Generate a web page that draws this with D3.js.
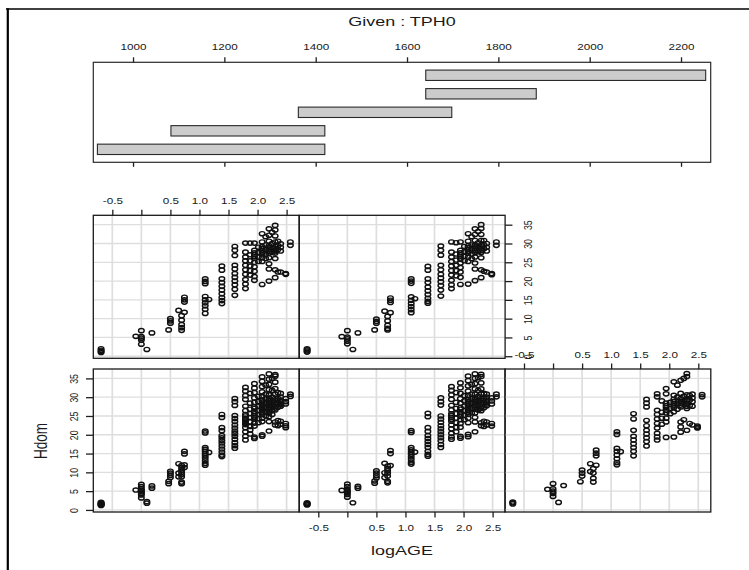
<!DOCTYPE html>
<html>
<head>
<meta charset="utf-8">
<script src="https://cdn.jsdelivr.net/npm/d3@7"></script>
<style>
  body { margin: 0; background: #fff; }
  svg { display: block; }
  text { font-family: "Liberation Sans", Arial, Helvetica, sans-serif; fill: #1a1a1a; }
</style>
</head>
<body>
<svg id="chart" width="749" height="570"></svg>
<script>
// ---- data -------------------------------------------------------------
// logAGE values at which the stands were measured
const LOG_AGE = [-0.693, -0.095, 0, 0.095, 0.182, 0.47, 0.5, 0.642, 0.693, 0.742,
  1.099, 1.163, 1.386, 1.609, 1.792, 1.872, 1.946, 2.015, 2.079, 2.14, 2.197,
  2.251, 2.303, 2.351, 2.398, 2.485, 2.565];

// Hdom observed at each logAGE, one list per TPH0 interval
const HDOM_1 = [
  [1.2, 1.4, 1.6, 1.8, 2.0, 1.5], [5.3], [6.8, 6.2, 5.6, 5.2, 4.8, 4.4, 4.0, 3.2], [1.8, 2.2],
  [6.4, 5.8], [7.0, 7.6], [10.3, 9.8, 9.2, 8.6], [12.3, 9.8, 8.8],
  [11.8, 11.2, 10.6, 10.0, 9.4, 8.8, 7.4, 7.0], [15.6, 14.9, 12.0, 11.3],
  [21.0, 20.5, 16.6, 16.1, 15.6, 15.0, 14.4, 13.8, 13.1, 12.4, 11.9], [15.3],
  [25.4, 24.6, 21.9, 21.1, 19.8, 19.2, 18.5, 17.8, 17.0, 16.2, 15.4, 14.6, 14.2],
  [29.6, 28.8, 27.8, 25.1, 24.3, 23.5, 22.6, 21.8, 21.0, 20.3, 19.6, 18.8, 17.9, 17.1, 16.4],
  [32.6, 31.6, 30.4, 29.4, 27.6, 26.4, 25.4, 25.0, 24.4, 24.0, 23.6, 23.2, 22.7, 21.9, 20.8, 19.6, 18.6],
  [31.0, 28.4, 26.8, 25.6, 24.6, 23.4, 22.2, 21.3, 20.2],
  [33.6, 32.4, 31.2, 29.8, 28.6, 27.4, 27.0, 26.2, 25.6, 25.0, 24.6, 24.2, 23.1, 22.3, 19.4, 19.0],
  [30.2, 28.8, 27.6, 26.4, 25.4, 24.3, 23.2],
  [35.4, 34.2, 32.8, 31.4, 30.2, 29.2, 28.7, 28.2, 27.8, 27.3, 26.9, 26.4, 25.9, 25.4, 24.4, 23.5, 20.0, 19.6],
  [33.2, 30.8, 29.6, 28.4, 27.2, 26.0, 25.0],
  [36.2, 34.8, 33.4, 32.0, 30.6, 29.6, 29.1, 28.6, 28.2, 27.7, 27.2, 26.8, 26.3, 25.8, 24.8, 23.5, 21.0],
  [35.0, 31.8, 30.0, 28.8, 27.6, 26.4, 25.4],
  [36.0, 35.6, 34.0, 32.3, 30.8, 29.6, 29.1, 28.6, 28.1, 27.6, 27.1, 26.6, 23.4, 22.6],
  [31.2, 29.6, 28.4, 27.3, 23.8, 22.4],
  [31.0, 30.0, 29.2, 28.8, 28.4, 28.0, 27.6, 23.6, 22.8],
  [29.6, 28.8, 28.2, 23.0, 22.4, 21.9],
  [30.8, 30.2]
];
const HDOM_2 = [
  [1.3, 1.5, 1.7, 1.9, 1.6], [5.2], [6.9, 6.2, 5.5, 5.0, 4.6, 4.1, 3.4], [1.9],
  [6.3, 5.8], [7.1, 7.7], [10.4, 9.8, 9.1, 8.5], [12.4, 9.9, 8.6],
  [11.7, 11.0, 10.4, 9.8, 9.0, 7.6, 7.2], [15.8, 15.0, 11.8],
  [21.1, 20.6, 16.6, 16.0, 15.4, 14.8, 14.1, 13.4, 12.7, 12.2], [15.4],
  [25.7, 24.8, 21.9, 20.9, 19.8, 19.0, 18.2, 17.4, 16.6, 15.6, 14.8, 14.3],
  [29.8, 28.8, 27.9, 25.0, 24.2, 23.3, 22.4, 21.6, 20.8, 20.0, 19.2, 18.4, 17.4, 16.6],
  [32.8, 31.8, 30.6, 29.4, 27.8, 26.6, 25.6, 25.1, 24.6, 24.1, 23.6, 22.6, 21.6, 20.4, 19.4, 18.8],
  [31.2, 28.6, 27.0, 25.6, 24.4, 23.2, 22.0, 20.8],
  [33.8, 32.5, 31.0, 29.6, 28.4, 27.2, 26.8, 26.0, 25.5, 24.9, 24.0, 23.0, 22.0, 19.6, 19.1],
  [30.4, 29.0, 27.6, 26.4, 25.2, 24.0],
  [35.6, 34.4, 33.0, 31.6, 30.4, 29.4, 28.9, 28.4, 27.9, 27.4, 26.9, 26.4, 25.9, 25.4, 24.4, 23.2, 20.1, 19.5],
  [33.4, 30.8, 29.6, 28.4, 27.0, 25.8],
  [36.2, 35.0, 33.6, 32.2, 30.8, 29.8, 29.3, 28.8, 28.3, 27.8, 27.3, 26.8, 25.8, 24.6, 23.4, 20.8],
  [35.2, 31.8, 30.2, 29.0, 27.8, 26.6],
  [36.1, 35.5, 33.8, 32.2, 30.8, 29.6, 29.1, 28.6, 28.1, 27.6, 27.0, 26.4, 23.2, 22.4],
  [31.0, 29.6, 28.4, 27.2, 23.6, 22.2],
  [30.8, 30.0, 29.2, 28.7, 28.2, 27.7, 23.4, 22.6],
  [29.8, 29.0, 28.2, 23.0, 22.3],
  [30.8, 30.1]
];
const HDOM_3 = [
  [1.6, 1.9, 2.1], [5.5], [7.0, 5.6, 5.0, 4.4, 3.6], [2.0],
  [6.5], [7.5], [10.6, 9.8, 9.0], [12.3, 10.2],
  [11.0, 9.8, 8.4, 7.4], [15.9, 15.1, 14.4, 11.9],
  [20.8, 20.1, 16.4, 15.6, 14.6, 13.6, 12.6, 12.0], [15.5],
  [25.6, 24.2, 21.2, 19.6, 18.6, 17.6, 16.6, 15.6, 14.4],
  [29.4, 28.4, 27.4, 23.8, 22.4, 21.2, 20.2, 19.2, 18.2, 17.0],
  [30.9, 30.1, 26.5, 25.4, 24.2, 23.0, 21.8, 20.4, 19.4, 18.6],
  [29.0, 26.0, 24.4, 22.8],
  [32.3, 30.9, 28.4, 27.8, 27.2, 26.5, 25.8, 24.4, 23.4, 19.3],
  [28.6, 27.0, 25.6],
  [34.1, 30.5, 29.4, 28.8, 28.2, 27.7, 27.2, 26.1, 19.4],
  [33.2, 30.0, 28.2, 26.8],
  [34.5, 31.0, 29.6, 28.9, 28.4, 27.9, 27.4, 23.4, 22.1, 20.7],
  [35.0, 30.2, 28.8, 24.0],
  [36.3, 35.5, 30.6, 29.4, 29.0, 28.2, 27.6, 27.0, 21.2],
  [30.4, 29.2, 27.8, 23.0],
  [30.8, 29.8, 28.8, 27.6, 22.6],
  [22.3, 22.0, 21.8],
  [30.7, 30.1]
];
const HDOM_4 = [
  [1.0, 1.3, 1.6, 2.0], [5.3], [6.8, 5.2, 4.8, 4.3, 3.2], [1.8],
  [6.2], [7.0], [10.0, 9.4, 8.8], [12.2],
  [10.8, 9.6, 8.4, 7.6, 6.9], [15.7, 15.0, 14.4, 11.7],
  [20.6, 19.9, 19.3, 15.9, 15.0, 14.2, 13.4, 12.5, 11.4], [15.1],
  [24.0, 22.9, 20.6, 19.6, 18.6, 17.6, 16.6, 15.6, 14.8, 14.0],
  [29.2, 28.2, 26.8, 24.2, 23.2, 22.0, 21.0, 20.0, 19.0, 17.8, 16.2],
  [30.1, 27.7, 26.4, 25.4, 24.2, 23.0, 21.8, 20.4, 19.2, 18.0],
  [30.1, 27.0, 25.4, 24.0, 22.8, 21.6],
  [30.1, 28.2, 27.5, 27.0, 26.5, 26.0, 25.0, 23.8, 22.6, 21.2, 20.2],
  [29.0, 27.6, 26.4, 25.2],
  [32.6, 30.4, 29.2, 28.7, 28.2, 27.7, 27.2, 26.2, 25.2, 19.1],
  [31.8, 29.6, 28.4, 27.2, 26.0],
  [33.9, 32.2, 30.6, 29.4, 28.9, 28.4, 27.9, 27.4, 26.2, 24.6, 23.2, 20.0],
  [33.0, 30.0, 28.8, 27.6],
  [34.8, 33.6, 32.0, 30.4, 29.2, 28.7, 28.2, 27.8, 27.4, 26.0, 23.0, 20.9],
  [30.6, 29.4, 28.4, 22.4],
  [29.9, 29.0, 28.0, 22.4],
  [22.0, 21.8],
  [30.4, 29.5]
];
const HDOM_5 = [
  [1.1, 1.4, 1.7, 2.0], [5.2], [6.8, 5.1, 4.6, 4.0, 3.3], [1.8],
  [6.2], [7.0], [9.9, 9.3, 8.8], [12.0],
  [10.6, 9.4, 8.2, 7.4, 7.0], [15.5, 14.9, 14.3, 11.6],
  [20.6, 20.0, 19.4, 15.8, 14.9, 14.0, 13.2, 12.4, 11.6], [15.3],
  [23.9, 22.9, 20.6, 19.6, 18.4, 17.4, 16.4, 15.4, 14.6, 14.1],
  [29.3, 28.2, 26.9, 24.2, 23.0, 21.8, 20.8, 19.8, 18.8, 17.6, 16.0],
  [30.4, 27.7, 26.4, 25.2, 24.0, 22.8, 21.6, 20.2, 19.0, 18.0],
  [30.2, 27.2, 25.6, 24.2, 22.8, 21.4],
  [30.4, 28.2, 27.5, 27.0, 26.5, 25.9, 24.8, 23.6, 22.4, 21.0, 19.1],
  [29.2, 27.8, 26.6, 25.4],
  [32.6, 30.6, 29.4, 28.9, 28.4, 27.9, 27.4, 26.4, 25.2, 19.2],
  [31.8, 29.6, 28.4, 27.2, 26.0],
  [33.9, 32.4, 30.8, 29.6, 29.1, 28.6, 28.1, 27.6, 26.4, 24.8, 23.2, 20.1],
  [33.2, 30.2, 29.0, 27.8],
  [35.0, 34.0, 32.4, 30.8, 29.6, 29.1, 28.6, 28.1, 27.6, 26.2, 23.0, 20.9],
  [30.8, 29.6, 28.6, 22.6],
  [30.0, 29.0, 28.0, 22.4],
  [22.0, 21.7],
  [30.4, 29.5]
];

// TPH0 conditioning intervals (lowest first)
const TPH_INTERVALS = [[922, 1420], [1083, 1420], [1362, 1698], [1641, 1883], [1641, 2254]];
const TPH_TICKS = [1000, 1200, 1400, 1600, 1800, 2000, 2200];
const X_TICKS = [-0.5, 0, 0.5, 1, 1.5, 2, 2.5];
const X_TICK_LABELS = ["-0.5", "", "0.5", "1.0", "1.5", "2.0", "2.5"];
const Y_TICKS = [0, 5, 10, 15, 20, 25, 30, 35];

// ---- layout -----------------------------------------------------------
const S = 1.33;               // horizontal stretch of glyphs and symbols
const TICK_FONT = 8.8, LAB_FONT = 13.5;
const INK = "#1f1f1f";
const svg = d3.select("#chart");

const COLS = [93.3, 299.3, 505.0], COL_W = 205.8;
const ROWS = [215.3, 369.0], ROW_H = 143;
const X_DOMAIN = [-0.827, 2.715], Y_DOMAIN = [-0.55, 37.5];

const panels = [
  { hdom: HDOM_1, col: 0, row: 1 },
  { hdom: HDOM_2, col: 1, row: 1 },
  { hdom: HDOM_3, col: 2, row: 1 },
  { hdom: HDOM_4, col: 0, row: 0 },
  { hdom: HDOM_5, col: 1, row: 0 }
];

function stretchText(sel, size) {
  sel.style("font-size", size + "px").attr("fill", INK)
    .attr("font-family", null);
}

// outer frame
svg.append("line").attr("x1", 6).attr("x2", 749).attr("y1", 9).attr("y2", 9)
  .attr("stroke", "#000").attr("stroke-width", 1.6);
svg.append("line").attr("x1", 7.8).attr("x2", 7.8).attr("y1", 8.2).attr("y2", 570)
  .attr("stroke", "#000").attr("stroke-width", 2.2);

// ---- given panel (TPH0 intervals) ------------------------------------
const gx = d3.scaleLinear().domain([913, 2265]).range([93.3, 710.7]);
const gy = d3.scaleLinear().domain([0.3, 5.7]).range([162.3, 62.3]);
const given = svg.append("g");

given.selectAll("rect.bar").data(TPH_INTERVALS).join("rect")
  .attr("class", "bar")
  .attr("x", d => gx(d[0])).attr("width", d => gx(d[1]) - gx(d[0]))
  .attr("y", (d, i) => gy(i + 1 + 0.28)).attr("height", (d, i) => gy(i + 1 - 0.28) - gy(i + 1 + 0.28))
  .attr("fill", "#cccccc").attr("stroke", "#2a2a2a").attr("stroke-width", 1.1);

given.append("rect").attr("x", 93.3).attr("y", 62.3).attr("width", 710.7 - 93.3).attr("height", 100)
  .attr("fill", "none").attr("stroke", "#2a2a2a").attr("stroke-width", 1.2);

const gTop = given.append("g").attr("transform", "translate(0,62.3)")
  .call(d3.axisTop(gx).tickValues(TPH_TICKS).tickSize(5).tickPadding(8).tickFormat(d3.format("d")));
const gBot = given.append("g").attr("transform", "translate(0,162.3)")
  .call(d3.axisBottom(gx).tickValues(TPH_TICKS).tickSize(4.5).tickFormat(""));

[gTop, gBot].forEach(a => {
  a.select(".domain").remove();
  a.selectAll(".tick line").attr("stroke", INK).attr("stroke-width", 1.3);
});
gTop.selectAll(".tick text").attr("y", -15).attr("dy", "0.35em")
  .attr("transform", `scale(${S},1)`).call(stretchText, TICK_FONT);

given.append("text").attr("transform", `translate(402,21) scale(${S},1)`)
  .attr("text-anchor", "middle").attr("dy", "0.36em")
  .style("font-size", LAB_FONT + "px").attr("fill", INK).text("Given : TPH0");

// ---- scatter panels ---------------------------------------------------
panels.forEach(p => {
  const x0 = COLS[p.col], y0 = ROWS[p.row];
  p.x = d3.scaleLinear().domain(X_DOMAIN).range([x0, x0 + COL_W]);
  p.y = d3.scaleLinear().domain(Y_DOMAIN).range([y0 + ROW_H, y0]);
  const g = svg.append("g");

  // grid
  g.selectAll("line.gx").data(X_TICKS).join("line").attr("class", "gx")
    .attr("x1", d => p.x(d)).attr("x2", d => p.x(d)).attr("y1", y0).attr("y2", y0 + ROW_H)
    .attr("stroke", "#dedede").attr("stroke-width", 1.7);
  g.selectAll("line.gy").data(Y_TICKS).join("line").attr("class", "gy")
    .attr("x1", x0).attr("x2", x0 + COL_W).attr("y1", d => p.y(d)).attr("y2", d => p.y(d))
    .attr("stroke", "#dedede").attr("stroke-width", 1.3);

  // points
  const pts = [];
  p.hdom.forEach((hs, i) => hs.forEach(h => pts.push([LOG_AGE[i], h])));
  g.selectAll("ellipse").data(pts).join("ellipse")
    .attr("cx", d => p.x(d[0])).attr("cy", d => p.y(d[1]))
    .attr("rx", 2.1 * S).attr("ry", 2.1)
    .attr("fill", "none").attr("stroke", "#111").attr("stroke-width", 1.45);

  // border
  g.append("rect").attr("x", x0).attr("y", y0).attr("width", COL_W).attr("height", ROW_H)
    .attr("fill", "none").attr("stroke", "#1a1a1a").attr("stroke-width", 1.3);
});

function styleAxis(a) {
  a.select(".domain").remove();
  a.selectAll(".tick line").attr("stroke", INK).attr("stroke-width", 1.3);
  a.attr("font-family", null).attr("font-size", null);
}

// x axes: top of the top-left panel, bottom of the bottom-middle panel, top of the bottom-right panel
[[panels[3], "top"], [panels[1], "bottom"], [panels[2], "top"]].forEach(([p, side]) => {
  const y0 = ROWS[p.row] + (side === "bottom" ? ROW_H : 0);
  const ax = (side === "top" ? d3.axisTop(p.x) : d3.axisBottom(p.x))
    .tickValues(X_TICKS).tickSize(5.5).tickFormat((d, i) => X_TICK_LABELS[i]);
  const a = svg.append("g").attr("transform", `translate(0,${y0})`).call(ax);
  styleAxis(a);
  a.selectAll(".tick text").attr("y", side === "top" ? -14.5 : 15.5).attr("dy", "0.35em")
    .attr("transform", `scale(${S},1)`).call(stretchText, TICK_FONT);
});

// y axes: left of the bottom-left panel, right of the top-middle panel
[[panels[0], "left", -19.8], [panels[4], "right", 23]].forEach(([p, side, off]) => {
  const x0 = COLS[p.col] + (side === "right" ? COL_W : 0);
  const ax = (side === "left" ? d3.axisLeft(p.y) : d3.axisRight(p.y))
    .tickValues(Y_TICKS).tickSize(5.5 * S).tickFormat(d3.format("d"));
  const a = svg.append("g").attr("transform", `translate(${x0},0)`).call(ax);
  styleAxis(a);
  a.selectAll(".tick text").attr("x", 0).attr("y", 0).attr("dy", "0.35em")
    .attr("text-anchor", "middle")
    .attr("transform", `translate(${off},0) scale(${S},1) rotate(-90)`)
    .call(stretchText, TICK_FONT);
});

// axis titles
svg.append("text").attr("transform", `translate(402,555) scale(${S},1)`)
  .attr("text-anchor", "middle").style("font-size", LAB_FONT + "px").attr("fill", INK).text("logAGE");
svg.append("text").attr("transform", `translate(41,441) scale(${S},1) rotate(-90)`)
  .attr("text-anchor", "middle").attr("dy", "0.36em")
  .style("font-size", LAB_FONT + "px").attr("fill", INK).text("Hdom");
</script>
</body>
</html>
